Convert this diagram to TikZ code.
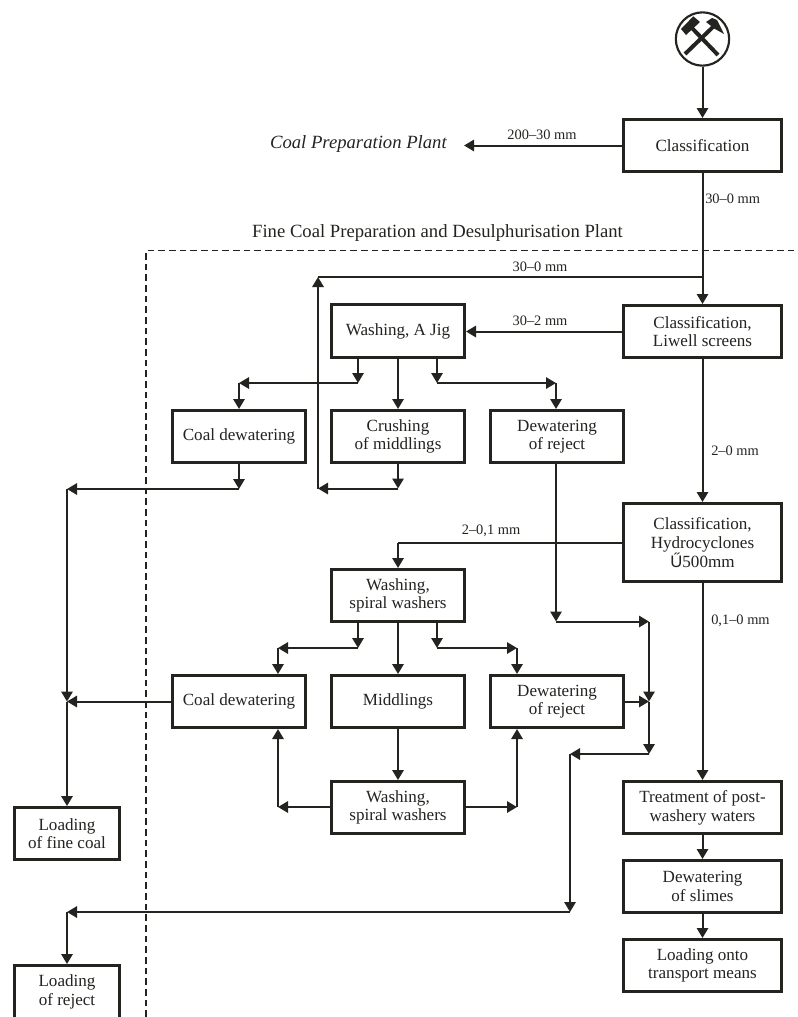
\documentclass[tikz,border=0pt]{standalone}
\usepackage{fontspec}
\setmainfont{Liberation Serif}
\newfontfamily\symfont{Liberation Sans}
\usetikzlibrary{arrows.meta}
\definecolor{ink}{RGB}{35,35,32}
\tikzset{x=0.75pt,y=-0.75pt,
 procbox/.style={draw=ink,line width=2.5pt,fill=white,align=center,text=ink,font=\fontsize{12.8pt}{14pt}\selectfont,inner sep=0pt},
 flow/.style={draw=ink,line width=1.5pt,-{Triangle[length=7.5pt,width=8.5pt]}},
 plain/.style={draw=ink,line width=1.5pt},
 lab/.style={font=\fontsize{10.8pt}{12pt}\selectfont,inner sep=0pt,text=ink},
 title/.style={font=\fontsize{14pt}{16pt}\selectfont,inner sep=0pt,text=ink},
 bound/.style={draw=ink,line width=1.4pt,dash pattern=on 5pt off 3pt}}
% name, outer x1, y1, x2, y2, text
\newcommand{\bx}[6]{\node[procbox,minimum width={(#4-#2)*0.75pt-2.5pt},minimum height={(#5-#3)*0.75pt-2.5pt}] (#1) at ({(#2+#4)/2},{(#3+#5)/2}) {#6};}
\begin{document}
\begin{tikzpicture}
\useasboundingbox (0,0) rectangle (797,1017);
\clip (0,0) rectangle (797,1017);
% boundary
\coordinate (bA) at (146,1017); \coordinate (bB) at (146,250.5); \coordinate (bC) at (797,250.5);
\draw[bound] (bA) -- (bB) -- (bC);
% boxes
\bx{cls}{622}{118}{783}{173}{Classification}
\bx{lw}{622}{304}{783}{359}{Classification,\\Liwell screens}
\bx{hy}{622}{502}{783}{583}{Classification,\\Hydrocyclones\\{\symfont\fontsize{12.5pt}{14pt}\selectfont Ű}500mm}
\bx{jig}{330}{303}{466}{359}{Washing, A Jig}
\bx{cd}{171}{409}{307}{464}{Coal dewatering}
\bx{cr}{330}{409}{466}{464}{Crushing\\of middlings}
\bx{dr}{489}{409}{625}{464}{Dewatering\\of reject}
\bx{sp}{330}{568}{466}{623}{Washing,\\spiral washers}
\bx{cdb}{171}{674}{307}{729}{Coal dewatering}
\bx{mid}{330}{674}{466}{729}{Middlings}
\bx{drb}{489}{674}{625}{729}{Dewatering\\of reject}
\bx{spb}{330}{780}{466}{835}{Washing,\\spiral washers}
\bx{lf}{13}{806}{121}{861}{Loading\\of fine coal}
\bx{lr}{13}{964}{121}{1020}{Loading\\of reject}
\bx{tr}{622}{780}{783}{835}{Treatment of post-\\washery waters}
\bx{dw}{622}{859}{783}{914}{Dewatering\\of slimes}
\bx{lo}{622}{938}{783}{993}{Loading onto\\transport means}
% mine symbol
\node[draw=ink,line width=1.6pt,circle,minimum size=40pt,inner sep=0pt] (mine) at (702.5,39) {};
\begin{scope}[shift={(702,39)}]
\draw[ink,line width=3pt] (-17,15) -- (13,-14);
\draw[ink,line width=3pt] (16,16) -- (-12,-13);
\fill[ink] (-21,-10) -- (-8.7,-22.7) -- (-2,-17) -- (-16,-4) -- cycle;
\fill[ink] (4,-17) -- (10,-21) -- (15,-19) -- (22,-5) -- (13,-10) -- cycle;
\end{scope}
% texts
\node[font=\fontsize{14pt}{16pt}\selectfont\itshape,anchor=east,inner sep=0pt,text=ink] (cp) at (447,144) {Coal Preparation Plant};
\node[title] (fine) at (437.5,233) {Fine Coal Preparation and Desulphurisation Plant};
\node[lab] (l1) at (542,135) {200–30 mm};
\node[lab,anchor=west] (l2) at (705,199) {30–0 mm};
\node[lab] (l3) at (540,267) {30–0 mm};
\node[lab] (l4) at (540,321) {30–2 mm};
\node[lab,anchor=west] (l5) at (711,451) {2–0 mm};
\node[lab] (l6) at (491,531) {2–0,1 mm};
\node[lab,anchor=west] (l7) at (711,621) {0,1–0 mm};
% junctions
\coordinate (topL) at (318,277);
\coordinate (topR) at (702.5,277);
\coordinate (retB) at (318,488.5);
\coordinate (crB) at (398,488.5);
\coordinate (ja) at (358,383);
\coordinate (jb) at (437,383);
\coordinate (jc) at (239,383);
\coordinate (jd) at (556,383);
\coordinate (ca) at (239,489);
\coordinate (cb) at (67,489);
\coordinate (cc) at (67,701.5);
\coordinate (hL) at (398,542.5);
\coordinate (sa) at (358,648);
\coordinate (sb) at (437,648);
\coordinate (sc) at (278,648);
\coordinate (sd) at (517,648);
\coordinate (ua) at (278,807);
\coordinate (ub) at (517,807);
\coordinate (da) at (556,621.5);
\coordinate (db) at (649,621.5);
\coordinate (dc) at (649,701.5);
\coordinate (dd) at (649,754);
\coordinate (de) at (570,754);
\coordinate (df) at (570,912);
\coordinate (dg) at (67,912);
% connectors
\draw[flow] (mine.south) -- (mine.south |- cls.north);
\draw[flow] (cls.west) -- (cls.west -| 464,0);
\draw[flow] (cls.south) -- (lw.north);
\draw[plain] (topR) -- (topL);
\draw[flow] (retB) -- (topL);
\draw[flow] (lw.west) -- (lw.west -| jig.east);
\draw[flow] (lw.south) -- (hy.north);
\draw[flow] (jig.south -| ja) -- (ja);
\draw[flow] (jig.south) -- (cr.north);
\draw[flow] (jig.south -| jb) -- (jb);
\draw[flow] (ja) -- (jc);
\draw[flow] (jc) -- (jc |- cd.north);
\draw[flow] (jb) -- (jd);
\draw[flow] (jd) -- (jd |- dr.north);
\draw[flow] (cr.south) -- (crB);
\draw[flow] (crB) -- (retB);
\draw[flow] (cd.south -| ca) -- (ca);
\draw[flow] (ca) -- (cb);
\draw[flow] (cb) -- (cc);
\draw[flow] (cdb.west) -- (cc);
\draw[flow] (cc) -- (lf.north);
\draw[plain] (hy.west) -- (hL);
\draw[flow] (hL) -- (hL |- sp.north);
\draw[flow] (hy.south) -- (tr.north);
\draw[flow] (sp.south -| sa) -- (sa);
\draw[flow] (sp.south) -- (mid.north);
\draw[flow] (sp.south -| sb) -- (sb);
\draw[flow] (sa) -- (sc);
\draw[flow] (sc) -- (sc |- cdb.north);
\draw[flow] (sb) -- (sd);
\draw[flow] (sd) -- (sd |- drb.north);
\draw[flow] (mid.south) -- (spb.north);
\draw[flow] (spb.west |- ua) -- (ua);
\draw[flow] (ua) -- (ua |- cdb.south);
\draw[flow] (spb.east |- ub) -- (ub);
\draw[flow] (ub) -- (ub |- drb.south);
\draw[flow] (dr.south -| da) -- (da);
\draw[flow] (da) -- (db);
\draw[flow] (db) -- (dc);
\draw[flow] (drb.east |- dc) -- (dc);
\draw[flow] (dc) -- (dd);
\draw[flow] (dd) -- (de);
\draw[flow] (de) -- (df);
\draw[flow] (df) -- (dg);
\draw[flow] (dg) -- (dg |- lr.north);
\draw[flow] (tr.south) -- (dw.north);
\draw[flow] (dw.south) -- (lo.north);
\end{tikzpicture}
\end{document}
